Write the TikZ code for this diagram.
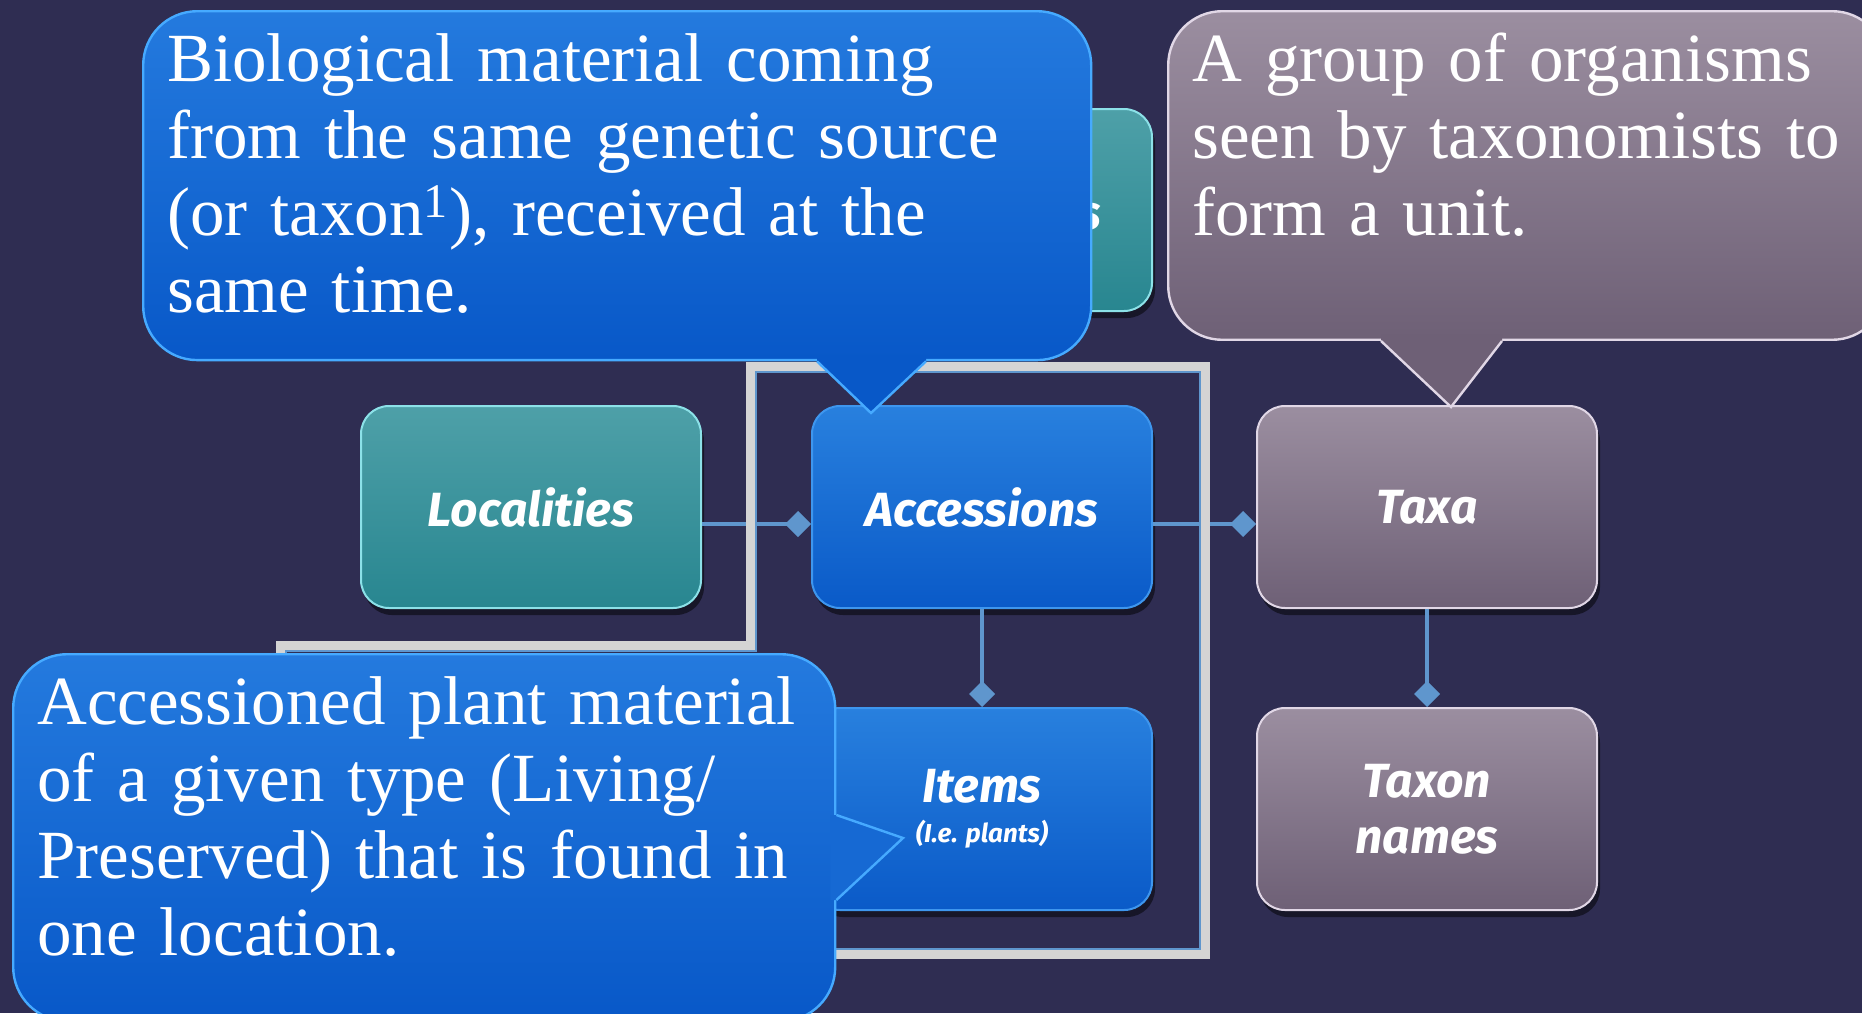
\documentclass[tikz,border=0pt]{standalone}
\usepackage{fontspec}
\setmainfont{Liberation Serif}
\newfontfamily\boxfont{Fira Sans}
\usepackage{tikz}
\usetikzlibrary{positioning, calc, arrows.meta, shadows}
\definecolor{bgnavy}{RGB}{47,45,82}
\definecolor{blueTop}{RGB}{40,128,222}
\definecolor{blueBot}{RGB}{10,90,200}
\definecolor{blueedge}{RGB}{62,150,238}
\definecolor{tealTop}{RGB}{78,160,168}
\definecolor{tealBot}{RGB}{40,134,144}
\definecolor{tealedge}{RGB}{140,225,232}
\definecolor{mauveTop}{RGB}{155,142,160}
\definecolor{mauveBot}{RGB}{110,96,118}
\definecolor{mauveedge}{RGB}{225,215,230}
\definecolor{noteTop}{RGB}{36,122,222}
\definecolor{noteBot}{RGB}{8,88,200}
\definecolor{noteedge}{RGB}{70,170,255}
\definecolor{linkblue}{RGB}{95,150,205}
\definecolor{framegray}{RGB}{212,212,212}

\begin{document}
\begin{tikzpicture}[x=0.5pt, y=-0.5pt,
    entity/.style={rectangle, rounded corners=14pt, minimum width=170pt, minimum height=101pt, line width=1pt, text=white, align=center, font=\boxfont\bfseries\itshape\fontsize{24pt}{28pt}\selectfont, drop shadow={shadow xshift=1.5pt, shadow yshift=-3.5pt, opacity=.5, fill=black}},
    bluebox/.style={entity, draw=blueedge, top color=blueTop, bottom color=blueBot},
    tealbox/.style={entity, draw=tealedge, top color=tealTop, bottom color=tealBot},
    mauvebox/.style={entity, draw=mauveedge, top color=mauveTop, bottom color=mauveBot},
    relation/.style={draw=linkblue, line width=2pt, -{Diamond[length=13pt, width=13pt]}},
    note/.style={rectangle, rounded corners=27pt, anchor=north west, inner xsep=12pt, inner ysep=11pt, align=left, text=white, line width=1.2pt, font=\fontsize{34.5pt}{38.5pt}\selectfont},
    bluenote/.style={note, draw=noteedge, top color=noteTop, bottom color=noteBot},
    greynote/.style={note, draw=mauveedge, top color=mauveTop, bottom color=mauveBot}]
    % Background
    \fill[bgnavy] (0,0) rectangle (1862,1013);
    \useasboundingbox (0,0) rectangle (1862,1013);

    % Entity boxes
    \node[tealbox] (loc) at (531,507) {Localities};
    \node[bluebox, right=54.5pt of loc] (acc) {Accessions};
    \node[tealbox, above=46.5pt of acc] (coll) {Collections};
    \node[mauvebox, right=51.5pt of acc] (taxa) {Taxa};
    \node[bluebox, below=49pt of acc] (items) {Items\\[-8pt]{\fontsize{13pt}{15pt}\selectfont (I.e. plants)}};
    \node[mauvebox, below=49pt of taxa] (names) {Taxon\\names};

    % Relations
    \draw[relation] ([yshift=-8.5pt]loc.east) -- ([yshift=-8.5pt]acc.west);
    \draw[relation] ([yshift=-8.5pt]acc.east) -- ([yshift=-8.5pt]taxa.west);
    \draw[relation] (acc.south) -- (items.north);
    \draw[relation] (taxa.south) -- (names.north);

    % Frame round the accession part
    \draw[framegray, line width=4.5pt] (280,700) -- (280,645) -- (750,645) -- (750,366) -- (1205,366) -- (1205,954) -- (700,954);
    \draw[linkblue, line width=1pt] (285.5,700) -- (285.5,650.5) -- (755.5,650.5) -- (755.5,371.5) -- (1199.5,371.5) -- (1199.5,948.5) -- (700,948.5);

    % Callouts
    \node[bluenote, text width=450pt, text depth=128.5pt] (accnote) at (142,10) {Biological material coming\\from the same genetic source\\(or taxon\textsuperscript{1}), received at the\\same time.};
    \coordinate (acctip) at ($(acc.north west)+(30pt,-4pt)$);
    \fill[noteBot] ([xshift=337.5pt,yshift=3pt]accnote.south west) -- ([xshift=337.5pt]accnote.south west) -- (acctip) -- ([xshift=392pt]accnote.south west) -- ([xshift=392pt,yshift=3pt]accnote.south west) -- cycle;
    \draw[noteedge, line width=1.2pt] ([xshift=337.5pt]accnote.south west) -- (acctip) -- ([xshift=392pt]accnote.south west);

    \node[greynote, text width=335pt, text depth=118pt] (taxanote) at (1167,10) {A group of organisms\\seen by taxonomists to\\form a unit.};
    \coordinate (taxatip) at ($(taxa.north west)+(97.5pt,-1pt)$);
    \fill[mauveBot] ([xshift=107pt,yshift=3pt]taxanote.south west) -- ([xshift=107pt]taxanote.south west) -- (taxatip) -- ([xshift=167.5pt]taxanote.south west) -- ([xshift=167.5pt,yshift=3pt]taxanote.south west) -- cycle;
    \draw[mauveedge, line width=1.2pt] ([xshift=107pt]taxanote.south west) -- (taxatip) -- ([xshift=167.5pt]taxanote.south west);

    \node[bluenote, text width=387pt, text depth=137.5pt] (itemnote) at (12,653) {Accessioned plant material\\of a given type (Living/\\Preserved) that is found in\\one location.};
    \coordinate (itemtip) at ($(items.west)+(46pt,-14.5pt)$);
    \fill[noteTop!50!noteBot] ([xshift=-3pt,yshift=-81pt]itemnote.north east) -- ([yshift=-81pt]itemnote.north east) -- (itemtip) -- ([yshift=-123.5pt]itemnote.north east) -- ([xshift=-3pt,yshift=-123.5pt]itemnote.north east) -- cycle;
    \draw[noteedge, line width=1.2pt] ([yshift=-81pt]itemnote.north east) -- (itemtip) -- ([yshift=-123.5pt]itemnote.north east);
\end{tikzpicture}
\end{document}
